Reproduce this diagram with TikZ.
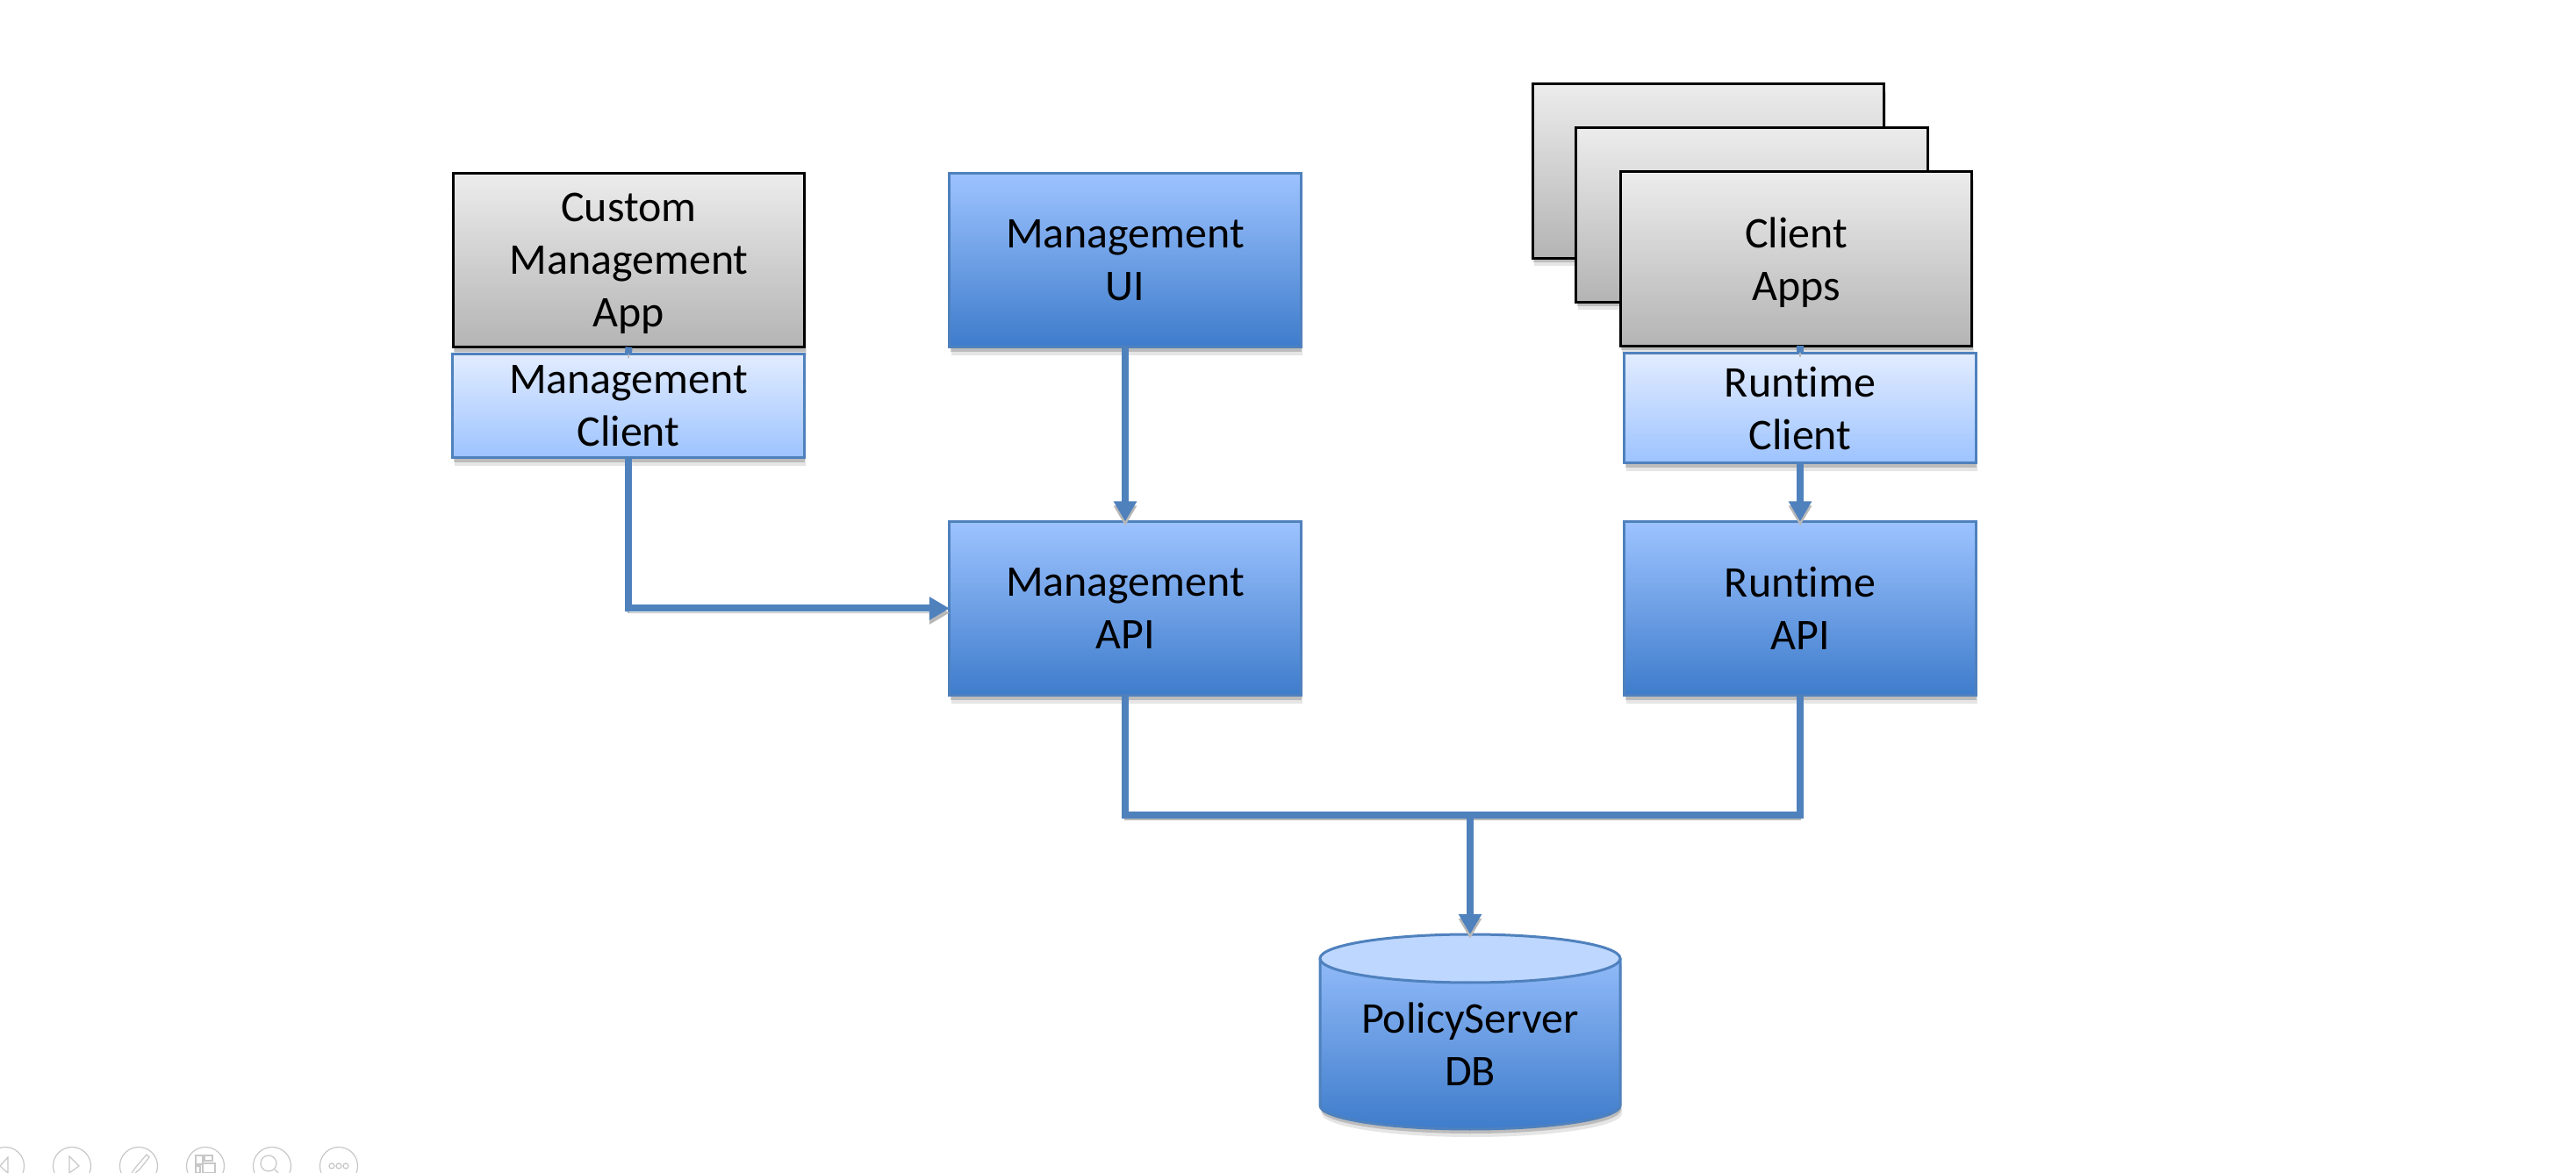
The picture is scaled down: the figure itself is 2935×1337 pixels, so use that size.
\documentclass[tikz,border=0pt]{standalone}
\usepackage{fontspec}
\setmainfont[Ligatures=NoCommon]{Carlito}
\usetikzlibrary{arrows.meta, shadows}

\tikzset{
  softshadow/.style={
    drop shadow={shadow xshift=0.02cm, shadow yshift=-0.09cm, fill=black, opacity=0.10},
    drop shadow={shadow xshift=0.01cm, shadow yshift=-0.05cm, fill=black, opacity=0.18}},
  boxtext/.style={align=center, font=\fontsize{14.2}{17}\selectfont, text depth=-1.4pt, inner sep=0, outer sep=0},
  box/.style={rectangle, softshadow, boxtext, line width=0.03cm, minimum width=4.0cm},
  bluebox/.style={box, draw=linkblue, top color=boxtop, bottom color=boxbottom, minimum height=1.98cm},
  clientbox/.style={box, draw=linkblue, top color=clienttop, bottom color=boxtop},
  graybox/.style={box, draw=black, line width=0.03cm, top color=graytop, bottom color=graybottom, minimum height=1.98cm},
  link/.style={draw=linkblue, line width=0.08cm, line join=miter,
    preaction={draw=black!28, transform canvas={yshift=-0.05cm}}},
  linkarrow/.style={link, -{Triangle[width=0.25cm, length=0.23cm]}},
  navicon/.style={draw=black!22, line width=0.012cm, fill=none}
}
\definecolor{boxtop}{RGB}{157,195,255}
\definecolor{boxbottom}{RGB}{62,124,203}
\definecolor{clienttop}{RGB}{226,236,255}
\definecolor{graytop}{RGB}{236,236,236}
\definecolor{graybottom}{RGB}{180,180,180}
\definecolor{linkblue}{RGB}{79,129,189}
\definecolor{dbtop}{RGB}{190,215,255}

\begin{document}
\begin{tikzpicture}[x=0.01cm, y=-0.01cm]
\useasboundingbox (0, 0) rectangle (2935, 1337);

\coordinate (bus) at (1675, 929);

\node[graybox] (custom) at (716.5, 296.5) {Custom\\Management\\App};
\node[clientbox, minimum height=1.18cm] (mclient) at (716, 462.5) {Management\\Client};
\node[bluebox] (mui) at (1282, 296.5) {Management\\UI};
\node[bluebox] (mapi) at (1282, 693.5) {Management\\API};

\node[graybox] (capps3) at (1946.5, 195) {};
\node[graybox] (capps2) at (1996, 245) {};
\node[graybox] (capps) at (2046.5, 295) {Client\\Apps};
\node[clientbox, minimum height=1.25cm] (rclient) at (2051, 465) {Runtime\\Client};
\node[bluebox] (rapi) at (2051, 693.5) {Runtime\\API};

% database drum, text node goes on top of it
\path[softshadow, top color=boxtop, bottom color=boxbottom] (1504, 1092.5) -- (1504, 1260)
  arc[start angle=180, end angle=0, x radius=171, y radius=27] -- (1846, 1092.5)
  arc[start angle=0, end angle=-180, x radius=171, y radius=27.5] -- cycle;
\draw[linkblue, line width=0.03cm] (1504, 1092.5) -- (1504, 1260)
  arc[start angle=180, end angle=0, x radius=171, y radius=27] -- (1846, 1092.5);
\draw[linkblue, line width=0.03cm, fill=dbtop] (1675, 1092.5) ellipse (171 and 27.5);
\node[boxtext, minimum width=3.42cm, minimum height=2.5cm] (db) at (1675, 1190) {PolicyServer\\DB};

\draw[link] (custom.south) -- (mclient.north);
\draw[link] (rclient.north) -- (rclient.north |- capps.south);
\draw[linkarrow] (mclient.south) |- (mapi.west);
\draw[linkarrow] (mui.south) -- (mapi.north);
\draw[linkarrow] (rclient.south) -- (rapi.north);
\draw[link] (mapi.south) |- (bus);
\draw[link] (rapi.south) |- (bus);
\draw[linkarrow] (bus) -- (db.north);

% player controls in the bottom corner
\draw[navicon] (6, 1329) circle (21.5 and 21.5);
\draw[navicon] (82, 1329) circle (21.5 and 21.5);
\draw[navicon] (158, 1329) circle (21.5 and 21.5);
\draw[navicon] (234, 1329) circle (21.5 and 21.5);
\draw[navicon] (310, 1329) circle (21.5 and 21.5);
\draw[navicon] (386, 1329) circle (21.5 and 21.5);
\draw[navicon] (9, 1319) -- (0, 1329) -- (9, 1337) -- cycle;
\draw[navicon] (79, 1318) -- (90, 1329) -- (79, 1337) -- cycle;
\draw[navicon] (150, 1337) -- (155, 1330) -- (167, 1316) -- (170, 1319) -- (159, 1333) -- (154, 1337);
\draw[navicon] (223, 1317) rectangle (231, 1327);
\draw[navicon] (233, 1317) rectangle (242, 1323);
\draw[navicon] (223, 1329) rectangle (228, 1337);
\draw[navicon] (231, 1326) rectangle (245, 1337);
\draw[navicon] (306, 1326) circle (9 and 9);
\draw[navicon] (313, 1333) -- (317, 1337);
\draw[navicon] (378, 1329) circle (3 and 3);
\draw[navicon] (386, 1329) circle (3 and 3);
\draw[navicon] (394, 1329) circle (3 and 3);
\end{tikzpicture}
\end{document}
